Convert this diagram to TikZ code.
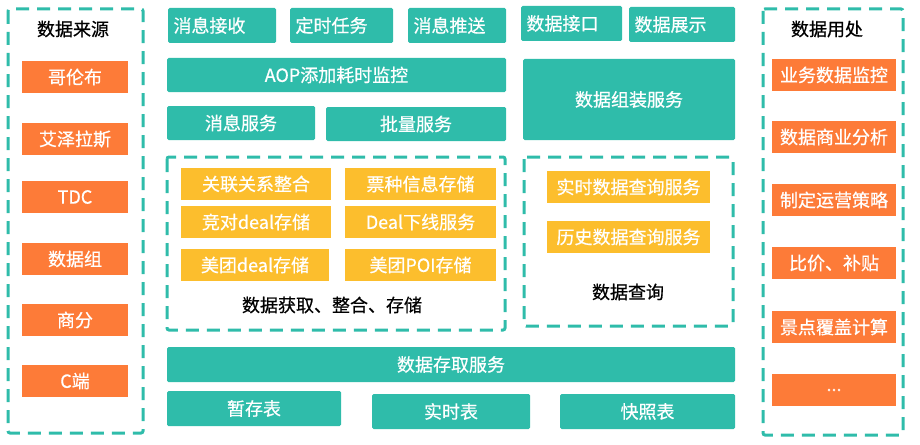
\documentclass[tikz,border=0pt]{standalone}
\usepackage{fontspec}
\setmainfont{Noto Sans CJK SC}[FakeBold=0.6]
\usepackage{tikz}

\definecolor{tealfill}{RGB}{47,188,170}
\definecolor{orangefill}{RGB}{253,123,56}
\definecolor{yellowfill}{RGB}{252,190,45}

\tikzset{
  tealbox/.style={fill=tealfill,rounded corners=1.5pt,text=white,inner sep=0pt},
  tealleft/.style={fill=tealfill,rounded corners=1.5pt,text=white,inner xsep=5.5pt,inner ysep=0pt,align=left},
  orangebox/.style={fill=orangefill,text=white,inner sep=0pt},
  yellowbox/.style={fill=yellowfill,text=white,inner sep=0pt},
  groupbox/.style={draw=tealfill,line width=3pt,dash pattern=on 13pt off 8pt,rounded corners=2pt},
  grouptitle/.style={text=black,inner sep=0pt}
}

\begin{document}
\begin{tikzpicture}[x=1pt,y=-1pt,every node/.style={font=\fontsize{18}{20}\selectfont}]
\useasboundingbox (0,0) rectangle (920,444);

% data sources
\draw[groupbox] (8,9) rectangle (143,433);
\node[grouptitle] (srctitle) at (73,29) {数据来源};
\node[orangebox,minimum width=106,minimum height=32] (columbus) at (75,77) {哥伦布};
\node[orangebox,minimum width=106,minimum height=32] (azeroth) at (75,139) {艾泽拉斯};
\node[orangebox,minimum width=106,minimum height=32] (tdc) at (75,197) {TDC};
\node[orangebox,minimum width=106,minimum height=32] (datagroup) at (75,259) {数据组};
\node[orangebox,minimum width=106,minimum height=32] (bizanalysis) at (75,320) {商分};
\node[orangebox,minimum width=106,minimum height=32] (cend) at (75,381) {C端};

% top services
\node[tealleft,text width=97,minimum height=35] (msgrecv) at (222,25.5) {消息接收};
\node[tealleft,text width=92,minimum height=35] (timer) at (341.5,25.5) {定时任务};
\node[tealleft,text width=87,minimum height=35] (msgpush) at (457,25.5) {消息推送};
\node[tealleft,text width=90,minimum height=35] (dataapi) at (571.5,23.5) {数据接口};
\node[tealleft,text width=95,minimum height=35] (datashow) at (682,24.5) {数据展示};
\node[tealbox,minimum width=339,minimum height=34] (aop) at (336.5,75) {AOP添加耗时监控};
\node[tealbox,minimum width=148,minimum height=34] (msgsvc) at (241,123) {消息服务};
\node[tealbox,minimum width=180,minimum height=34] (batchsvc) at (416,124) {批量服务};
\node[tealbox,minimum width=212,minimum height=81] (assemble) at (629,99.5) {数据组装服务};

% fetch, merge, store
\draw[groupbox] (167,157) rectangle (505,330);
\node[yellowbox,minimum width=150,minimum height=32] (relmerge) at (256,184) {关联关系整合};
\node[yellowbox,minimum width=151,minimum height=32] (ticketstore) at (420.5,184) {票种信息存储};
\node[yellowbox,minimum width=150,minimum height=32] (rivalstore) at (256,222) {竞对deal存储};
\node[yellowbox,minimum width=151,minimum height=32] (dealoffline) at (420.5,222) {Deal下线服务};
\node[yellowbox,minimum width=148,minimum height=32] (mtdeal) at (255,265) {美团deal存储};
\node[yellowbox,minimum width=151,minimum height=32] (mtpoi) at (420.5,265) {美团POI存储};
\node[grouptitle] (fetchtitle) at (332,305) {数据获取、整合、存储};

% query
\draw[groupbox] (524,157) rectangle (733,326);
\node[yellowbox,minimum width=163,minimum height=32] (rtquery) at (628.5,187) {实时数据查询服务};
\node[yellowbox,minimum width=163,minimum height=32] (histquery) at (628.5,237) {历史数据查询服务};
\node[grouptitle] (querytitle) at (628,292) {数据查询};

% storage
\node[tealbox,minimum width=568,minimum height=35] (storesvc) at (451,364.5) {数据存取服务};
\node[tealbox,minimum width=174,minimum height=35] (tmptable) at (254,408.5) {暂存表};
\node[tealbox,minimum width=158,minimum height=35] (rttable) at (451,411.5) {实时表};
\node[tealbox,minimum width=175,minimum height=35] (snaptable) at (647.5,411.5) {快照表};

% data usage
\draw[groupbox] (763,9) rectangle (903,435);
\node[grouptitle] (usetitle) at (827,29) {数据用处};
\node[orangebox,minimum width=124,minimum height=32] (bizmonitor) at (834,75) {业务数据监控};
\node[orangebox,minimum width=124,minimum height=32] (commerce) at (834,137) {数据商业分析};
\node[orangebox,minimum width=124,minimum height=32] (strategy) at (834,200) {制定运营策略};
\node[orangebox,minimum width=124,minimum height=32] (subsidy) at (834,263) {比价、补贴};
\node[orangebox,minimum width=124,minimum height=32] (coverage) at (834,327) {景点覆盖计算};
\node[orangebox,minimum width=124,minimum height=32] (more) at (834,390) {...};
\end{tikzpicture}
\end{document}
